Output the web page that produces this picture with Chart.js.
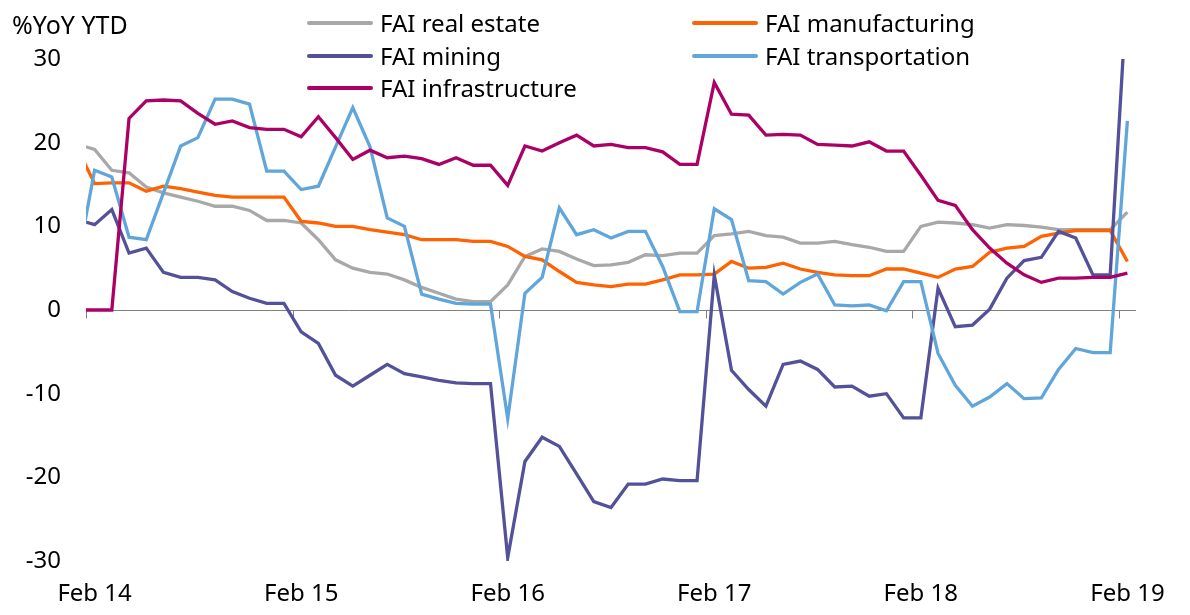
<!DOCTYPE html>
<html>
<head>
<meta charset="utf-8">
<script src="https://cdn.jsdelivr.net/npm/chart.js@4"></script>
<style>
  html, body { margin: 0; padding: 0; background: #fff; }
  #wrap { position: relative; width: 1190px; height: 615px; font-family: 'Noto Sans', sans-serif; color: #000; }
  #faiChart { position: absolute; left: 0; top: 0; }
  #unit { position: absolute; left: 12px; top: 8px; font-size: 25px; line-height: 32px; white-space: nowrap; }
  .leg { position: absolute; font-size: 24px; line-height: 30px; display: flex; align-items: center; white-space: nowrap; }
  .leg .sw { display: inline-block; width: 66px; height: 4px; border-radius: 2px; margin-right: 7px; }
</style>
</head>
<body>
<div id="wrap">
  <canvas id="faiChart" width="1190" height="615"></canvas>
  <div id="unit">%YoY YTD</div>
  <div id="legend"></div>
</div>
<script>
// months Jan 14 .. Feb 19 (Jan 14 sits just left of the axis start)
const months = ['Jan 14','Feb 14','Mar 14','Apr 14','May 14','Jun 14','Jul 14','Aug 14','Sep 14','Oct 14','Nov 14','Dec 14',
  'Jan 15','Feb 15','Mar 15','Apr 15','May 15','Jun 15','Jul 15','Aug 15','Sep 15','Oct 15','Nov 15','Dec 15',
  'Jan 16','Feb 16','Mar 16','Apr 16','May 16','Jun 16','Jul 16','Aug 16','Sep 16','Oct 16','Nov 16','Dec 16',
  'Jan 17','Feb 17','Mar 17','Apr 17','May 17','Jun 17','Jul 17','Aug 17','Sep 17','Oct 17','Nov 17','Dec 17',
  'Jan 18','Feb 18','Mar 18','Apr 18','May 18','Jun 18','Jul 18','Aug 18','Sep 18','Oct 18','Nov 18','Dec 18',
  'Jan 19','Feb 19'];
const yearTicks = ['Feb 14','Feb 15','Feb 16','Feb 17','Feb 18','Feb 19'];
const yTicks = [-30, -20, -10, 0, 10, 20, 30];

const realEstate = [19.8, 19.2, 16.7, 16.4, 14.7, 14.0, 13.5, 13.0, 12.4, 12.4, 11.9, 10.7, 10.7,
  10.4, 8.4, 6.0, 5.0, 4.5, 4.3, 3.6, 2.7, 2.0, 1.3, 1.0, 1.0,
  3.0, 6.4, 7.3, 7.0, 6.1, 5.3, 5.4, 5.7, 6.6, 6.5, 6.8, 6.8,
  8.9, 9.1, 9.4, 8.9, 8.7, 8.0, 8.0, 8.2, 7.8, 7.5, 7.0, 7.0,
  10.0, 10.5, 10.4, 10.2, 9.8, 10.2, 10.1, 9.9, 9.6, 9.6, 9.6, 9.6,
  11.7];
const manufacturing = [19.3, 15.1, 15.2, 15.2, 14.2, 14.8, 14.5, 14.1, 13.7, 13.5, 13.5, 13.5, 13.5,
  10.6, 10.4, 10.0, 10.0, 9.6, 9.3, 9.0, 8.4, 8.4, 8.4, 8.2, 8.2,
  7.6, 6.4, 6.0, 4.6, 3.3, 3.0, 2.8, 3.1, 3.1, 3.6, 4.2, 4.2,
  4.3, 5.8, 5.0, 5.1, 5.6, 4.9, 4.5, 4.2, 4.1, 4.1, 4.9, 4.9,
  4.4, 3.9, 4.9, 5.2, 6.9, 7.4, 7.6, 8.8, 9.2, 9.5, 9.5, 9.5,
  5.8];
const mining = [10.8, 10.2, 12.0, 6.8, 7.4, 4.5, 3.9, 3.9, 3.6, 2.2, 1.4, 0.8, 0.8,
  -2.6, -4.0, -7.8, -9.1, -7.8, -6.5, -7.6, -8.0, -8.4, -8.7, -8.8, -8.8,
  -29.6, -18.1, -15.2, -16.3, -19.6, -22.9, -23.6, -20.8, -20.8, -20.2, -20.4, -20.4,
  4.2, -7.2, -9.5, -11.5, -6.5, -6.1, -7.1, -9.2, -9.1, -10.3, -10.0, -12.9,
  -12.9, 2.6, -2.0, -1.8, 0.1, 3.8, 5.9, 6.3, 9.4, 8.6, 4.2, 4.2,
  39.0];
const transportation = [5.7, 16.7, 15.9, 8.7, 8.4, 14.0, 19.6, 20.6, 25.2, 25.2, 24.6, 16.6, 16.6,
  14.4, 14.8, 19.5, 24.2, 19.5, 11.0, 10.0, 1.9, 1.3, 0.8, 0.7, 0.7,
  -13.0, 2.0, 3.9, 12.2, 9.0, 9.6, 8.6, 9.4, 9.4, 5.2, -0.2, -0.2,
  12.1, 10.8, 3.5, 3.4, 1.9, 3.3, 4.3, 0.6, 0.5, 0.6, -0.1, 3.4,
  3.4, -5.2, -9.0, -11.5, -10.4, -8.8, -10.6, -10.5, -7.1, -4.6, -5.1, -5.1,
  22.6];
const infrastructure = [0, 0, 0, 22.9, 25.0, 25.1, 25.0, 23.5, 22.2, 22.6, 21.8, 21.6, 21.6,
  20.7, 23.1, 20.6, 18.0, 19.1, 18.2, 18.4, 18.1, 17.4, 18.2, 17.3, 17.3,
  14.9, 19.6, 19.0, 20.0, 20.9, 19.6, 19.8, 19.4, 19.4, 18.9, 17.4, 17.4,
  27.2, 23.4, 23.3, 20.9, 21.0, 20.9, 19.8, 19.7, 19.6, 20.1, 19.0, 19.0,
  16.1, 13.1, 12.5, 9.6, 7.4, 5.6, 4.2, 3.3, 3.8, 3.8, 3.9, 3.9,
  4.4];

const series = [
  { label: 'FAI real estate', values: realEstate, color: '#A8A8A8', order: 5 },
  { label: 'FAI manufacturing', values: manufacturing, color: '#FF6200', order: 4 },
  { label: 'FAI mining', values: mining, color: '#525199', order: 3 },
  { label: 'FAI transportation', values: transportation, color: '#60A6DA', order: 2 },
  { label: 'FAI infrastructure', values: infrastructure, color: '#AB0066', order: 1 }
];

const fontFamily = "'Noto Sans', sans-serif";
const tickIdx = yearTicks.map(l => months.indexOf(l));

// legend: two columns, filled row by row
const legendCols = [307, 692];
const legendRows = [23, 56, 88];
const legendEl = document.getElementById('legend');
series.forEach((s, i) => {
  const d = document.createElement('div');
  d.className = 'leg';
  d.style.left = legendCols[i % 2] + 'px';
  d.style.top = (legendRows[Math.floor(i / 2)] - 15) + 'px';
  d.innerHTML = '<span class="sw" style="background:' + s.color + '"></span>' + s.label;
  legendEl.appendChild(d);
});

// small tick marks below the zero line at each year boundary
const yearTickMarks = {
  id: 'yearTickMarks',
  beforeDatasetsDraw(chart) {
    const { ctx, scales: { x, y } } = chart;
    const y0 = Math.round(y.getPixelForValue(0)) + 0.5;
    ctx.save();
    ctx.strokeStyle = '#808080';
    ctx.lineWidth = 1;
    tickIdx.forEach(v => {
      const px = Math.round(x.getPixelForValue(v - 0.5)) + 0.5;
      ctx.beginPath();
      ctx.moveTo(px, y0);
      ctx.lineTo(px, y0 + 8);
      ctx.stroke();
    });
    ctx.restore();
  }
};

const ctx = document.getElementById('faiChart');
new Chart(ctx, {
  type: 'line',
  data: {
    datasets: series.map(s => ({
      label: s.label,
      data: s.values.map((v, i) => ({ x: i, y: v })),
      borderColor: s.color,
      backgroundColor: s.color,
      borderWidth: 3.3,
      pointRadius: 0,
      tension: 0,
      fill: false,
      order: s.order
    }))
  },
  options: {
    responsive: false,
    animation: false,
    devicePixelRatio: 1,
    layout: { padding: { top: 59, right: 54, left: 0, bottom: 0 } },
    plugins: {
      legend: { display: false },
      tooltip: { enabled: false }
    },
    scales: {
      x: {
        type: 'linear',
        min: 0.5,
        max: months.length - 0.5,
        grid: { display: false, drawTicks: false },
        border: { display: false },
        afterBuildTicks: s => { s.ticks = tickIdx.map(v => ({ value: v })); },
        afterFit: s => { s.height = 54; },
        ticks: {
          autoSkip: false,
          maxRotation: 0,
          padding: 19,
          color: '#000',
          font: { family: fontFamily, size: 24 },
          callback: v => months[v]
        }
      },
      y: {
        min: -30,
        max: 30,
        afterBuildTicks: s => { s.ticks = yTicks.map(v => ({ value: v })); },
        afterFit: s => { s.width = 86; },
        grid: {
          drawTicks: false,
          lineWidth: 1,
          color: c => c.tick && c.tick.value === 0 ? '#808080' : 'rgba(0,0,0,0)'
        },
        border: { display: false },
        ticks: {
          padding: 25,
          color: '#000',
          font: { family: fontFamily, size: 24 }
        }
      }
    }
  },
  plugins: [yearTickMarks]
});
</script>
</body>
</html>
